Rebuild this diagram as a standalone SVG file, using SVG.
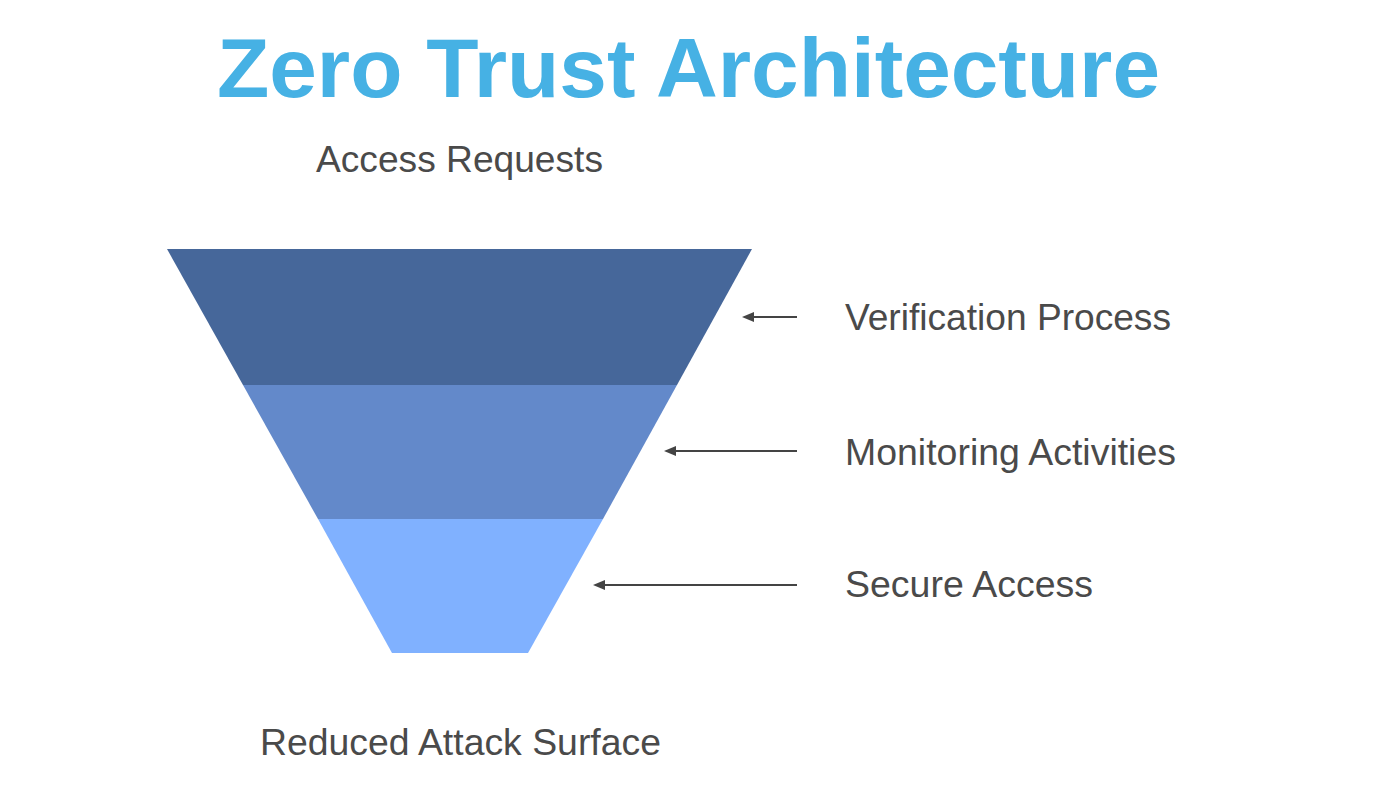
<svg xmlns="http://www.w3.org/2000/svg" width="1400" height="788" viewBox="0 0 1400 788">
<style>
.lbl{font-family:"Liberation Sans",Arial,sans-serif;font-size:36px;fill:#4a4a4a}
.title{font-family:"Liberation Sans",Arial,sans-serif;font-weight:bold;font-size:83px;fill:#46b1e4}
.conn{stroke:#444;stroke-width:2;fill:none}
</style>
<defs>
<marker id="ah" viewBox="0 0 12 10" refX="1" refY="5" markerWidth="12" markerHeight="10" markerUnits="userSpaceOnUse" orient="auto-start-reverse">
<path d="M0,0 L12,5 L0,10 z" fill="#444"/>
</marker>
</defs>
<rect width="1400" height="788" fill="#fff"/>
<text class="title" x="217" y="97" textLength="943" lengthAdjust="spacingAndGlyphs">Zero Trust Architecture</text>
<g id="top-label"><text class="lbl" x="316" y="172" textLength="287" lengthAdjust="spacingAndGlyphs">Access Requests</text></g>
<g id="band1"><polygon points="167,249 752,249 677,385 243,385" fill="#46679a"/></g>
<g id="band2"><polygon points="243,385 677,385 603,519 318,519" fill="#6389ca"/></g>
<g id="band3"><polygon points="318,519 603,519 528,653 392,653" fill="#80b1ff"/></g>
<g id="bottom-label"><text class="lbl" x="260" y="755" textLength="401" lengthAdjust="spacingAndGlyphs">Reduced Attack Surface</text></g>
<g id="lbl1"><text class="lbl" x="845" y="330" textLength="326" lengthAdjust="spacingAndGlyphs">Verification Process</text></g>
<g id="lbl2"><text class="lbl" x="845" y="465" textLength="331" lengthAdjust="spacingAndGlyphs">Monitoring Activities</text></g>
<g id="lbl3"><text class="lbl" x="845" y="597" textLength="248" lengthAdjust="spacingAndGlyphs">Secure Access</text></g>
<g id="connectors">
<line class="conn" x1="797" y1="317" x2="753" y2="317" marker-end="url(#ah)"/>
<line class="conn" x1="797" y1="451" x2="675" y2="451" marker-end="url(#ah)"/>
<line class="conn" x1="797" y1="585" x2="604" y2="585" marker-end="url(#ah)"/>
</g>
</svg>
